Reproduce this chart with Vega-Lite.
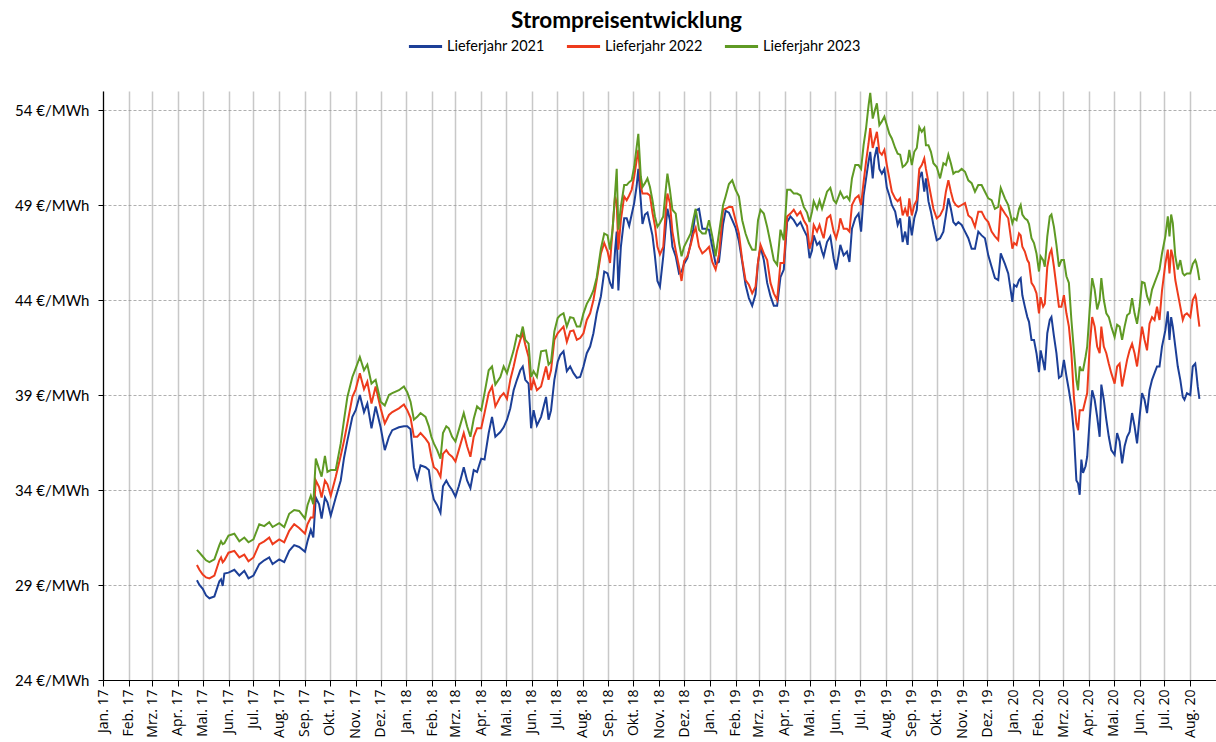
{
"$schema": "https://vega.github.io/schema/vega-lite/v6.json",
"autosize": "none",
"width": 1113,
"height": 589,
"padding": {"left": 103, "top": 91, "right": 0, "bottom": 62},
"background": "white",
"title": {"text": "Strompreisentwicklung", "font": "Lato", "fontSize": 22.5, "fontWeight": "bold", "color": "#000000", "anchor": "middle", "frame": "group", "offset": -4, "dx": -33},
"data": {"values": [
{"Datum":"2017-04-24","L21":29.25,"L22":30.05,"L23":30.85},
{"Datum":"2017-04-27","L21":29.0,"L22":29.8,"L23":30.7},
{"Datum":"2017-05-01","L21":28.8,"L22":29.55,"L23":30.5},
{"Datum":"2017-05-05","L21":28.45,"L22":29.4,"L23":30.3},
{"Datum":"2017-05-09","L21":28.3,"L22":29.35,"L23":30.2},
{"Datum":"2017-05-15","L21":28.4,"L22":29.5,"L23":30.35},
{"Datum":"2017-05-21","L21":29.2,"L22":30.3,"L23":31.1},
{"Datum":"2017-05-23","L21":29.3,"L22":30.45,"L23":31.3},
{"Datum":"2017-05-25","L21":28.95,"L22":30.2,"L23":31.15},
{"Datum":"2017-05-27","L21":29.6,"L22":30.3,"L23":31.2},
{"Datum":"2017-06-01","L21":29.65,"L22":30.7,"L23":31.6},
{"Datum":"2017-06-08","L21":29.8,"L22":30.8,"L23":31.7},
{"Datum":"2017-06-14","L21":29.5,"L22":30.45,"L23":31.3},
{"Datum":"2017-06-20","L21":29.75,"L22":30.6,"L23":31.5},
{"Datum":"2017-06-25","L21":29.35,"L22":30.25,"L23":31.25},
{"Datum":"2017-07-01","L21":29.5,"L22":30.45,"L23":31.4},
{"Datum":"2017-07-08","L21":30.1,"L22":31.15,"L23":32.2},
{"Datum":"2017-07-14","L21":30.3,"L22":31.3,"L23":32.1},
{"Datum":"2017-07-20","L21":30.45,"L22":31.5,"L23":32.3},
{"Datum":"2017-07-24","L21":30.1,"L22":31.15,"L23":32.05},
{"Datum":"2017-08-01","L21":30.35,"L22":31.4,"L23":32.25},
{"Datum":"2017-08-07","L21":30.2,"L22":31.25,"L23":32.05},
{"Datum":"2017-08-13","L21":30.8,"L22":31.85,"L23":32.75},
{"Datum":"2017-08-19","L21":31.1,"L22":32.2,"L23":32.95},
{"Datum":"2017-08-25","L21":31.0,"L22":32.0,"L23":32.9},
{"Datum":"2017-09-01","L21":30.75,"L22":31.7,"L23":32.5},
{"Datum":"2017-09-04","L21":31.3,"L22":32.2,"L23":33.2},
{"Datum":"2017-09-08","L21":31.9,"L22":32.55,"L23":33.7},
{"Datum":"2017-09-11","L21":31.5,"L22":32.55,"L23":33.25},
{"Datum":"2017-09-14","L21":33.6,"L22":34.5,"L23":35.65},
{"Datum":"2017-09-18","L21":33.25,"L22":34.15,"L23":35.1},
{"Datum":"2017-09-21","L21":32.5,"L22":33.6,"L23":34.7},
{"Datum":"2017-09-25","L21":33.6,"L22":34.5,"L23":35.8},
{"Datum":"2017-09-28","L21":33.35,"L22":34.3,"L23":34.95},
{"Datum":"2017-10-02","L21":32.65,"L22":33.7,"L23":35.05},
{"Datum":"2017-10-08","L21":33.6,"L22":34.7,"L23":35.05},
{"Datum":"2017-10-14","L21":34.5,"L22":35.8,"L23":36.45},
{"Datum":"2017-10-18","L21":35.7,"L22":36.6,"L23":37.7},
{"Datum":"2017-10-22","L21":36.6,"L22":37.5,"L23":38.9},
{"Datum":"2017-10-28","L21":37.85,"L22":38.9,"L23":39.95},
{"Datum":"2017-11-01","L21":38.2,"L22":39.3,"L23":40.4},
{"Datum":"2017-11-06","L21":39.0,"L22":40.15,"L23":41.0},
{"Datum":"2017-11-11","L21":38.1,"L22":39.3,"L23":40.3},
{"Datum":"2017-11-15","L21":38.55,"L22":39.7,"L23":40.6},
{"Datum":"2017-11-20","L21":37.25,"L22":38.55,"L23":39.6},
{"Datum":"2017-11-25","L21":38.4,"L22":39.45,"L23":39.8},
{"Datum":"2017-12-01","L21":37.3,"L22":38.3,"L23":38.65},
{"Datum":"2017-12-06","L21":36.1,"L22":37.5,"L23":38.45},
{"Datum":"2017-12-11","L21":36.8,"L22":37.95,"L23":39.0},
{"Datum":"2017-12-15","L21":37.15,"L22":38.1,"L23":39.1},
{"Datum":"2017-12-23","L21":37.3,"L22":38.3,"L23":39.25},
{"Datum":"2017-12-29","L21":37.35,"L22":38.5,"L23":39.45},
{"Datum":"2018-01-02","L21":37.35,"L22":38.2,"L23":39.15},
{"Datum":"2018-01-06","L21":37.2,"L22":37.8,"L23":38.65},
{"Datum":"2018-01-10","L21":35.2,"L22":36.8,"L23":37.7},
{"Datum":"2018-01-14","L21":34.6,"L22":36.8,"L23":37.85},
{"Datum":"2018-01-18","L21":35.3,"L22":37.0,"L23":38.05},
{"Datum":"2018-01-24","L21":35.2,"L22":36.7,"L23":37.85},
{"Datum":"2018-01-28","L21":35.05,"L22":36.45,"L23":37.35},
{"Datum":"2018-01-31","L21":34.1,"L22":35.75,"L23":36.8},
{"Datum":"2018-02-03","L21":33.5,"L22":35.2,"L23":36.45},
{"Datum":"2018-02-07","L21":33.2,"L22":35.05,"L23":36.1},
{"Datum":"2018-02-11","L21":32.8,"L22":34.7,"L23":35.65},
{"Datum":"2018-02-14","L21":34.2,"L22":35.9,"L23":37.0},
{"Datum":"2018-02-18","L21":34.5,"L22":36.1,"L23":37.35},
{"Datum":"2018-02-21","L21":34.25,"L22":35.9,"L23":37.25},
{"Datum":"2018-02-25","L21":34.0,"L22":35.75,"L23":36.8},
{"Datum":"2018-03-01","L21":33.65,"L22":35.5,"L23":36.55},
{"Datum":"2018-03-05","L21":34.2,"L22":36.1,"L23":37.15},
{"Datum":"2018-03-11","L21":35.2,"L22":37.0,"L23":38.05},
{"Datum":"2018-03-15","L21":34.5,"L22":36.3,"L23":37.35},
{"Datum":"2018-03-19","L21":34.1,"L22":35.75,"L23":36.8},
{"Datum":"2018-03-23","L21":35.05,"L22":36.8,"L23":37.75},
{"Datum":"2018-03-27","L21":34.95,"L22":37.25,"L23":38.4},
{"Datum":"2018-04-01","L21":35.65,"L22":37.25,"L23":38.2},
{"Datum":"2018-04-05","L21":35.6,"L22":38.05,"L23":39.1},
{"Datum":"2018-04-10","L21":37.0,"L22":39.1,"L23":40.3},
{"Datum":"2018-04-14","L21":37.85,"L22":39.45,"L23":40.5},
{"Datum":"2018-04-18","L21":36.8,"L22":38.4,"L23":39.55},
{"Datum":"2018-04-24","L21":37.05,"L22":38.9,"L23":39.95},
{"Datum":"2018-04-28","L21":37.3,"L22":39.1,"L23":40.5},
{"Datum":"2018-05-02","L21":37.7,"L22":38.8,"L23":40.15},
{"Datum":"2018-05-06","L21":38.3,"L22":39.8,"L23":40.75},
{"Datum":"2018-05-10","L21":39.25,"L22":40.5,"L23":41.35},
{"Datum":"2018-05-14","L21":39.8,"L22":41.3,"L23":42.15},
{"Datum":"2018-05-18","L21":40.3,"L22":41.9,"L23":42.05},
{"Datum":"2018-05-21","L21":40.5,"L22":42.25,"L23":42.6},
{"Datum":"2018-05-24","L21":39.8,"L22":41.65,"L23":41.9},
{"Datum":"2018-05-28","L21":39.6,"L22":41.0,"L23":41.7},
{"Datum":"2018-05-31","L21":37.25,"L22":39.25,"L23":39.95},
{"Datum":"2018-06-03","L21":38.2,"L22":39.8,"L23":40.25},
{"Datum":"2018-06-07","L21":37.4,"L22":39.25,"L23":39.95},
{"Datum":"2018-06-12","L21":37.85,"L22":39.45,"L23":41.3},
{"Datum":"2018-06-18","L21":38.9,"L22":40.5,"L23":41.35},
{"Datum":"2018-06-21","L21":37.7,"L22":39.8,"L23":40.6},
{"Datum":"2018-06-24","L21":38.2,"L22":40.3,"L23":40.75},
{"Datum":"2018-06-28","L21":39.8,"L22":41.9,"L23":42.35},
{"Datum":"2018-07-02","L21":40.75,"L22":42.25,"L23":43.05},
{"Datum":"2018-07-05","L21":41.1,"L22":42.4,"L23":43.2},
{"Datum":"2018-07-09","L21":41.3,"L22":42.6,"L23":43.3},
{"Datum":"2018-07-13","L21":40.25,"L22":41.8,"L23":42.6},
{"Datum":"2018-07-17","L21":40.5,"L22":42.35,"L23":43.1},
{"Datum":"2018-07-21","L21":40.15,"L22":42.4,"L23":43.05},
{"Datum":"2018-07-25","L21":39.9,"L22":41.9,"L23":42.6},
{"Datum":"2018-07-29","L21":39.95,"L22":42.0,"L23":42.6},
{"Datum":"2018-08-02","L21":40.5,"L22":42.25,"L23":43.3},
{"Datum":"2018-08-06","L21":41.2,"L22":42.95,"L23":43.8},
{"Datum":"2018-08-10","L21":41.55,"L22":43.3,"L23":44.1},
{"Datum":"2018-08-14","L21":42.25,"L22":44.0,"L23":44.5},
{"Datum":"2018-08-18","L21":43.3,"L22":45.05,"L23":45.2},
{"Datum":"2018-08-23","L21":44.2,"L22":46.45,"L23":46.7},
{"Datum":"2018-08-27","L21":45.5,"L22":47.0,"L23":47.5},
{"Datum":"2018-08-31","L21":45.4,"L22":46.55,"L23":47.4},
{"Datum":"2018-09-03","L21":44.9,"L22":45.95,"L23":46.65},
{"Datum":"2018-09-06","L21":44.6,"L22":47.7,"L23":47.7},
{"Datum":"2018-09-09","L21":46.6,"L22":49.45,"L23":49.6},
{"Datum":"2018-09-11","L21":47.6,"L22":49.1,"L23":50.9},
{"Datum":"2018-09-13","L21":44.5,"L22":46.65,"L23":47.7},
{"Datum":"2018-09-16","L21":46.8,"L22":48.2,"L23":48.9},
{"Datum":"2018-09-20","L21":48.3,"L22":49.45,"L23":50.05},
{"Datum":"2018-09-23","L21":48.3,"L22":49.25,"L23":50.05},
{"Datum":"2018-09-26","L21":47.9,"L22":49.5,"L23":50.2},
{"Datum":"2018-09-29","L21":48.5,"L22":49.8,"L23":50.3},
{"Datum":"2018-10-02","L21":49.1,"L22":50.5,"L23":51.0},
{"Datum":"2018-10-05","L21":50.0,"L22":51.35,"L23":52.05},
{"Datum":"2018-10-07","L21":50.9,"L22":51.9,"L23":52.75},
{"Datum":"2018-10-10","L21":49.2,"L22":50.0,"L23":50.5},
{"Datum":"2018-10-12","L21":48.0,"L22":49.6,"L23":49.95},
{"Datum":"2018-10-15","L21":48.5,"L22":49.6,"L23":50.15},
{"Datum":"2018-10-18","L21":48.6,"L22":49.6,"L23":50.4},
{"Datum":"2018-10-21","L21":48.0,"L22":49.5,"L23":49.95},
{"Datum":"2018-10-24","L21":47.4,"L22":48.6,"L23":49.25},
{"Datum":"2018-10-27","L21":46.3,"L22":47.9,"L23":48.4},
{"Datum":"2018-10-30","L21":45.0,"L22":46.8,"L23":47.85},
{"Datum":"2018-11-02","L21":44.7,"L22":46.4,"L23":48.05},
{"Datum":"2018-11-06","L21":46.3,"L22":46.8,"L23":48.4},
{"Datum":"2018-11-09","L21":47.85,"L22":48.7,"L23":49.8},
{"Datum":"2018-11-11","L21":48.8,"L22":49.6,"L23":50.65},
{"Datum":"2018-11-14","L21":48.2,"L22":49.1,"L23":49.8},
{"Datum":"2018-11-17","L21":46.8,"L22":47.6,"L23":48.75},
{"Datum":"2018-11-21","L21":46.3,"L22":46.6,"L23":48.55},
{"Datum":"2018-11-25","L21":45.4,"L22":45.75,"L23":47.0},
{"Datum":"2018-11-28","L21":45.5,"L22":45.0,"L23":46.3},
{"Datum":"2018-12-01","L21":45.9,"L22":46.05,"L23":46.8},
{"Datum":"2018-12-05","L21":46.2,"L22":46.3,"L23":47.15},
{"Datum":"2018-12-09","L21":47.0,"L22":46.9,"L23":47.5},
{"Datum":"2018-12-12","L21":47.7,"L22":47.45,"L23":48.2},
{"Datum":"2018-12-15","L21":48.7,"L22":47.8,"L23":48.8},
{"Datum":"2018-12-19","L21":48.8,"L22":46.8,"L23":47.7},
{"Datum":"2018-12-23","L21":47.75,"L22":46.45,"L23":47.5},
{"Datum":"2018-12-27","L21":47.75,"L22":46.6,"L23":47.5},
{"Datum":"2018-12-31","L21":47.7,"L22":46.8,"L23":48.2},
{"Datum":"2019-01-04","L21":46.8,"L22":46.0,"L23":47.35},
{"Datum":"2019-01-08","L21":45.9,"L22":45.6,"L23":46.3},
{"Datum":"2019-01-12","L21":46.0,"L22":46.4,"L23":47.5},
{"Datum":"2019-01-17","L21":48.0,"L22":48.75,"L23":49.0},
{"Datum":"2019-01-20","L21":48.7,"L22":48.8,"L23":49.45},
{"Datum":"2019-01-24","L21":48.6,"L22":48.9,"L23":50.1},
{"Datum":"2019-01-28","L21":48.2,"L22":48.9,"L23":50.3},
{"Datum":"2019-02-01","L21":47.8,"L22":48.2,"L23":49.8},
{"Datum":"2019-02-05","L21":47.1,"L22":47.5,"L23":49.45},
{"Datum":"2019-02-09","L21":46.0,"L22":46.1,"L23":48.2},
{"Datum":"2019-02-13","L21":44.8,"L22":45.05,"L23":47.5},
{"Datum":"2019-02-17","L21":44.1,"L22":44.8,"L23":47.0},
{"Datum":"2019-02-21","L21":43.7,"L22":44.35,"L23":46.65},
{"Datum":"2019-02-25","L21":44.3,"L22":44.7,"L23":46.65},
{"Datum":"2019-02-28","L21":46.0,"L22":46.0,"L23":48.2},
{"Datum":"2019-03-03","L21":46.8,"L22":46.9,"L23":48.75},
{"Datum":"2019-03-07","L21":46.1,"L22":46.45,"L23":48.55},
{"Datum":"2019-03-11","L21":44.9,"L22":46.1,"L23":47.85},
{"Datum":"2019-03-15","L21":44.2,"L22":44.9,"L23":47.0},
{"Datum":"2019-03-19","L21":43.7,"L22":44.35,"L23":46.1},
{"Datum":"2019-03-23","L21":43.7,"L22":44.0,"L23":45.85},
{"Datum":"2019-03-27","L21":45.2,"L22":45.95,"L23":47.7},
{"Datum":"2019-03-31","L21":45.6,"L22":45.95,"L23":47.15},
{"Datum":"2019-04-04","L21":48.1,"L22":48.4,"L23":49.8},
{"Datum":"2019-04-08","L21":48.4,"L22":48.55,"L23":49.8},
{"Datum":"2019-04-12","L21":48.2,"L22":48.75,"L23":49.6},
{"Datum":"2019-04-16","L21":47.9,"L22":48.45,"L23":49.6},
{"Datum":"2019-04-20","L21":48.1,"L22":48.65,"L23":49.5},
{"Datum":"2019-04-24","L21":47.7,"L22":48.2,"L23":48.9},
{"Datum":"2019-04-28","L21":47.35,"L22":47.9,"L23":48.6},
{"Datum":"2019-05-01","L21":46.2,"L22":46.7,"L23":48.1},
{"Datum":"2019-05-04","L21":46.6,"L22":47.15,"L23":48.65},
{"Datum":"2019-05-06","L21":47.4,"L22":47.95,"L23":49.2},
{"Datum":"2019-05-10","L21":46.9,"L22":47.6,"L23":48.8},
{"Datum":"2019-05-13","L21":47.05,"L22":47.95,"L23":49.25},
{"Datum":"2019-05-16","L21":46.55,"L22":47.5,"L23":48.8},
{"Datum":"2019-05-18","L21":46.3,"L22":47.25,"L23":49.1},
{"Datum":"2019-05-22","L21":47.05,"L22":48.3,"L23":49.7},
{"Datum":"2019-05-26","L21":47.35,"L22":48.45,"L23":49.9},
{"Datum":"2019-05-30","L21":46.2,"L22":47.6,"L23":49.25},
{"Datum":"2019-06-02","L21":45.6,"L22":47.25,"L23":49.1},
{"Datum":"2019-06-05","L21":46.35,"L22":47.75,"L23":49.45},
{"Datum":"2019-06-07","L21":46.9,"L22":48.3,"L23":49.7},
{"Datum":"2019-06-11","L21":46.35,"L22":47.75,"L23":49.35},
{"Datum":"2019-06-15","L21":46.55,"L22":47.75,"L23":49.45},
{"Datum":"2019-06-18","L21":46.0,"L22":47.6,"L23":49.25},
{"Datum":"2019-06-21","L21":47.75,"L22":49.0,"L23":50.4},
{"Datum":"2019-06-25","L21":48.3,"L22":49.35,"L23":51.1},
{"Datum":"2019-06-29","L21":48.55,"L22":49.5,"L23":51.1},
{"Datum":"2019-07-02","L21":47.6,"L22":49.0,"L23":50.9},
{"Datum":"2019-07-05","L21":49.5,"L22":50.2,"L23":52.15},
{"Datum":"2019-07-08","L21":50.4,"L22":51.3,"L23":53.05},
{"Datum":"2019-07-11","L21":51.3,"L22":52.25,"L23":54.25},
{"Datum":"2019-07-13","L21":51.8,"L22":53.05,"L23":54.9},
{"Datum":"2019-07-16","L21":50.4,"L22":52.0,"L23":53.55},
{"Datum":"2019-07-18","L21":51.45,"L22":52.35,"L23":53.9},
{"Datum":"2019-07-21","L21":52.05,"L22":52.85,"L23":54.35},
{"Datum":"2019-07-24","L21":50.9,"L22":51.8,"L23":53.2},
{"Datum":"2019-07-27","L21":50.65,"L22":51.65,"L23":53.4},
{"Datum":"2019-07-30","L21":50.9,"L22":51.9,"L23":53.65},
{"Datum":"2019-08-02","L21":49.9,"L22":51.1,"L23":53.2},
{"Datum":"2019-08-05","L21":49.5,"L22":50.4,"L23":52.75},
{"Datum":"2019-08-08","L21":49.0,"L22":49.7,"L23":52.5},
{"Datum":"2019-08-12","L21":48.65,"L22":49.35,"L23":52.0},
{"Datum":"2019-08-15","L21":47.95,"L22":49.2,"L23":51.7},
{"Datum":"2019-08-18","L21":48.3,"L22":49.35,"L23":51.65},
{"Datum":"2019-08-21","L21":47.05,"L22":48.45,"L23":51.0},
{"Datum":"2019-08-24","L21":47.6,"L22":48.8,"L23":51.1},
{"Datum":"2019-08-27","L21":46.9,"L22":48.4,"L23":51.3},
{"Datum":"2019-08-29","L21":48.4,"L22":49.35,"L23":51.9},
{"Datum":"2019-09-01","L21":47.4,"L22":48.45,"L23":51.1},
{"Datum":"2019-09-04","L21":48.3,"L22":49.0,"L23":51.8},
{"Datum":"2019-09-07","L21":48.75,"L22":49.25,"L23":52.0},
{"Datum":"2019-09-10","L21":50.4,"L22":50.9,"L23":53.1},
{"Datum":"2019-09-13","L21":50.75,"L22":51.1,"L23":52.85},
{"Datum":"2019-09-16","L21":49.7,"L22":51.45,"L23":53.05},
{"Datum":"2019-09-18","L21":50.4,"L22":50.9,"L23":52.15},
{"Datum":"2019-09-21","L21":49.2,"L22":50.2,"L23":52.15},
{"Datum":"2019-09-24","L21":48.65,"L22":49.5,"L23":51.8},
{"Datum":"2019-09-27","L21":47.95,"L22":48.8,"L23":51.2},
{"Datum":"2019-10-01","L21":47.15,"L22":48.3,"L23":51.0},
{"Datum":"2019-10-05","L21":47.25,"L22":48.45,"L23":50.4},
{"Datum":"2019-10-09","L21":47.6,"L22":48.8,"L23":51.2},
{"Datum":"2019-10-12","L21":48.45,"L22":49.7,"L23":51.1},
{"Datum":"2019-10-15","L21":49.35,"L22":50.3,"L23":51.65},
{"Datum":"2019-10-18","L21":48.8,"L22":49.7,"L23":51.2},
{"Datum":"2019-10-21","L21":48.1,"L22":49.2,"L23":50.65},
{"Datum":"2019-10-24","L21":47.95,"L22":49.0,"L23":50.75},
{"Datum":"2019-10-27","L21":48.1,"L22":48.9,"L23":50.75},
{"Datum":"2019-10-31","L21":47.95,"L22":49.0,"L23":50.9},
{"Datum":"2019-11-04","L21":47.6,"L22":49.1,"L23":50.75},
{"Datum":"2019-11-08","L21":47.25,"L22":48.45,"L23":50.3},
{"Datum":"2019-11-12","L21":46.7,"L22":48.3,"L23":50.15},
{"Datum":"2019-11-16","L21":46.7,"L22":47.85,"L23":49.7},
{"Datum":"2019-11-20","L21":47.6,"L22":48.65,"L23":50.05},
{"Datum":"2019-11-24","L21":47.4,"L22":48.65,"L23":50.05},
{"Datum":"2019-11-28","L21":47.25,"L22":48.3,"L23":49.7},
{"Datum":"2019-12-02","L21":46.35,"L22":48.1,"L23":49.35},
{"Datum":"2019-12-06","L21":45.75,"L22":47.6,"L23":49.25},
{"Datum":"2019-12-10","L21":45.15,"L22":47.35,"L23":48.8},
{"Datum":"2019-12-14","L21":45.05,"L22":47.15,"L23":48.9},
{"Datum":"2019-12-17","L21":46.45,"L22":48.9,"L23":49.9},
{"Datum":"2019-12-22","L21":45.9,"L22":48.55,"L23":49.35},
{"Datum":"2019-12-26","L21":45.4,"L22":48.3,"L23":49.0},
{"Datum":"2019-12-31","L21":43.9,"L22":46.7,"L23":48.05},
{"Datum":"2020-01-02","L21":44.8,"L22":47.0,"L23":48.3},
{"Datum":"2020-01-05","L21":44.7,"L22":46.9,"L23":48.2},
{"Datum":"2020-01-08","L21":45.05,"L22":47.5,"L23":48.8},
{"Datum":"2020-01-10","L21":45.15,"L22":47.4,"L23":49.0},
{"Datum":"2020-01-12","L21":44.25,"L22":46.8,"L23":48.5},
{"Datum":"2020-01-15","L21":43.65,"L22":46.55,"L23":48.3},
{"Datum":"2020-01-18","L21":43.1,"L22":46.1,"L23":48.2},
{"Datum":"2020-01-20","L21":42.85,"L22":45.95,"L23":48.0},
{"Datum":"2020-01-23","L21":41.9,"L22":44.9,"L23":47.25},
{"Datum":"2020-01-26","L21":41.9,"L22":44.7,"L23":47.0},
{"Datum":"2020-01-29","L21":41.2,"L22":44.35,"L23":46.45},
{"Datum":"2020-02-01","L21":40.2,"L22":43.3,"L23":45.5},
{"Datum":"2020-02-03","L21":41.35,"L22":44.15,"L23":46.3},
{"Datum":"2020-02-06","L21":40.75,"L22":43.65,"L23":46.1},
{"Datum":"2020-02-08","L21":40.3,"L22":43.8,"L23":45.75},
{"Datum":"2020-02-11","L21":42.25,"L22":45.75,"L23":47.35},
{"Datum":"2020-02-14","L21":42.95,"L22":46.45,"L23":48.4},
{"Datum":"2020-02-16","L21":43.1,"L22":46.65,"L23":48.5},
{"Datum":"2020-02-19","L21":42.1,"L22":45.75,"L23":47.85},
{"Datum":"2020-02-22","L21":41.2,"L22":44.7,"L23":46.9},
{"Datum":"2020-02-25","L21":39.9,"L22":43.65,"L23":45.75},
{"Datum":"2020-02-28","L21":40.0,"L22":43.65,"L23":46.1},
{"Datum":"2020-03-02","L21":40.85,"L22":44.25,"L23":46.1},
{"Datum":"2020-03-05","L21":40.0,"L22":43.3,"L23":45.25},
{"Datum":"2020-03-08","L21":39.25,"L22":42.6,"L23":44.9},
{"Datum":"2020-03-11","L21":38.4,"L22":41.2,"L23":42.95},
{"Datum":"2020-03-14","L21":37.0,"L22":38.9,"L23":41.35},
{"Datum":"2020-03-17","L21":34.5,"L22":37.5,"L23":39.8},
{"Datum":"2020-03-19","L21":34.35,"L22":37.15,"L23":39.25},
{"Datum":"2020-03-21","L21":33.75,"L22":38.2,"L23":40.5},
{"Datum":"2020-03-23","L21":35.6,"L22":38.2,"L23":40.3},
{"Datum":"2020-03-25","L21":34.9,"L22":38.2,"L23":40.3},
{"Datum":"2020-03-28","L21":35.25,"L22":38.75,"L23":41.0},
{"Datum":"2020-03-30","L21":35.75,"L22":39.1,"L23":41.55},
{"Datum":"2020-04-02","L21":37.7,"L22":41.55,"L23":43.5},
{"Datum":"2020-04-05","L21":39.25,"L22":43.1,"L23":45.15},
{"Datum":"2020-04-08","L21":38.75,"L22":42.6,"L23":44.55},
{"Datum":"2020-04-11","L21":37.85,"L22":41.55,"L23":43.5},
{"Datum":"2020-04-14","L21":36.8,"L22":41.2,"L23":44.0},
{"Datum":"2020-04-16","L21":39.55,"L22":42.6,"L23":45.15},
{"Datum":"2020-04-19","L21":38.75,"L22":41.55,"L23":44.0},
{"Datum":"2020-04-22","L21":37.7,"L22":41.2,"L23":43.3},
{"Datum":"2020-04-25","L21":36.8,"L22":40.65,"L23":43.1},
{"Datum":"2020-04-28","L21":36.1,"L22":40.15,"L23":42.6},
{"Datum":"2020-05-02","L21":35.85,"L22":39.6,"L23":42.05},
{"Datum":"2020-05-05","L21":37.0,"L22":40.5,"L23":42.7},
{"Datum":"2020-05-08","L21":36.55,"L22":40.65,"L23":42.6},
{"Datum":"2020-05-11","L21":35.4,"L22":39.45,"L23":41.9},
{"Datum":"2020-05-14","L21":36.3,"L22":40.15,"L23":42.6},
{"Datum":"2020-05-17","L21":36.8,"L22":40.85,"L23":43.2},
{"Datum":"2020-05-20","L21":37.05,"L22":41.35,"L23":43.3},
{"Datum":"2020-05-23","L21":38.05,"L22":41.7,"L23":44.1},
{"Datum":"2020-05-26","L21":37.35,"L22":41.2,"L23":43.3},
{"Datum":"2020-05-29","L21":36.45,"L22":40.5,"L23":42.75},
{"Datum":"2020-06-01","L21":37.85,"L22":41.55,"L23":43.65},
{"Datum":"2020-06-04","L21":39.1,"L22":42.6,"L23":44.95},
{"Datum":"2020-06-07","L21":38.75,"L22":41.9,"L23":44.9},
{"Datum":"2020-06-10","L21":38.05,"L22":41.35,"L23":44.2},
{"Datum":"2020-06-13","L21":39.25,"L22":42.75,"L23":43.85},
{"Datum":"2020-06-16","L21":39.8,"L22":43.1,"L23":44.55},
{"Datum":"2020-06-19","L21":40.15,"L22":42.95,"L23":44.9},
{"Datum":"2020-06-22","L21":40.5,"L22":43.65,"L23":45.25},
{"Datum":"2020-06-25","L21":40.5,"L22":42.95,"L23":45.6},
{"Datum":"2020-06-28","L21":41.55,"L22":44.5,"L23":46.45},
{"Datum":"2020-07-02","L21":42.4,"L22":45.9,"L23":47.35},
{"Datum":"2020-07-05","L21":43.4,"L22":46.65,"L23":48.4},
{"Datum":"2020-07-07","L21":41.9,"L22":45.4,"L23":47.35},
{"Datum":"2020-07-09","L21":43.1,"L22":46.65,"L23":48.5},
{"Datum":"2020-07-11","L21":42.6,"L22":46.3,"L23":48.05},
{"Datum":"2020-07-14","L21":41.55,"L22":45.05,"L23":46.3},
{"Datum":"2020-07-17","L21":40.5,"L22":44.35,"L23":45.6},
{"Datum":"2020-07-20","L21":39.8,"L22":43.65,"L23":46.1},
{"Datum":"2020-07-23","L21":38.9,"L22":42.95,"L23":45.4},
{"Datum":"2020-07-25","L21":38.75,"L22":43.2,"L23":45.3},
{"Datum":"2020-07-28","L21":39.1,"L22":43.3,"L23":45.4},
{"Datum":"2020-08-01","L21":39.0,"L22":43.1,"L23":45.4},
{"Datum":"2020-08-04","L21":40.5,"L22":44.0,"L23":45.9},
{"Datum":"2020-08-07","L21":40.65,"L22":44.25,"L23":46.1},
{"Datum":"2020-08-08","L21":40.3,"L22":44.1,"L23":46.0},
{"Datum":"2020-08-10","L21":39.45,"L22":43.3,"L23":45.6},
{"Datum":"2020-08-12","L21":38.8,"L22":42.6,"L23":45.05}
]},
"transform": [{"fold": ["L21", "L22", "L23"], "as": ["Serie", "Preis"]}],
"mark": {"type": "line", "strokeWidth": 2, "clip": true},
"encoding": {
  "x": {"field": "Datum", "type": "temporal",
    "scale": {"type": "utc", "domain": [{"year": 2017, "month": 1, "date": 1, "utc": true}, {"year": 2020, "month": 8, "date": 31, "hours": 23, "utc": true}]},
    "axis": {"title": null, "tickCount": {"interval": "month", "step": 1},
      "labelExpr": "['Jan.','Feb.','Mrz.','Apr.','Mai.','Jun.','Jul.','Aug.','Sep.','Okt.','Nov.','Dez.'][utcmonth(datum.value)] + ' ' + utcFormat(datum.value, '%y')",
      "labelAngle": 270, "labelOverlap": false, "labelFlush": false, "labelFont": "Open Sans", "labelFontSize": 14, "labelColor": "#000000", "labelPadding": 3,
      "grid": true, "gridColor": "#c8c8c8", "gridWidth": 1.5,
      "domainColor": "#000000", "domainWidth": 1.2, "tickColor": "#000000", "tickSize": 6, "tickWidth": 1}},
  "y": {"field": "Preis", "type": "quantitative",
    "scale": {"domain": [24, 55], "nice": false, "zero": false},
    "axis": {"title": null, "values": [24, 29, 34, 39, 44, 49, 54], "labelExpr": "datum.value + ' €/MWh'",
      "labelFont": "Lato", "labelFontSize": 15, "labelColor": "#000000", "labelPadding": 9,
      "grid": true, "gridDash": [3, 2], "gridColor": "#9a9a9a", "gridWidth": 0.8,
      "domainColor": "#000000", "domainWidth": 1.2, "tickColor": "#000000", "tickSize": 5}},
  "color": {"field": "Serie", "type": "nominal",
    "scale": {"domain": ["L21", "L22", "L23"], "range": ["#1c3f97", "#ee3b1c", "#5f9a24"]},
    "legend": {"title": null, "orient": "none", "legendX": 304, "legendY": -63, "direction": "horizontal",
      "symbolType": "stroke", "symbolSize": 1100, "symbolStrokeWidth": 3,
      "labelExpr": "datum.label == 'L21' ? 'Lieferjahr 2021' : datum.label == 'L22' ? 'Lieferjahr 2022' : 'Lieferjahr 2023'",
      "labelFont": "Lato", "labelFontSize": 14.5, "labelColor": "#000000", "labelOffset": 3, "columnPadding": 15, "padding": 0}}
},
"config": {"view": {"stroke": null}}
}
